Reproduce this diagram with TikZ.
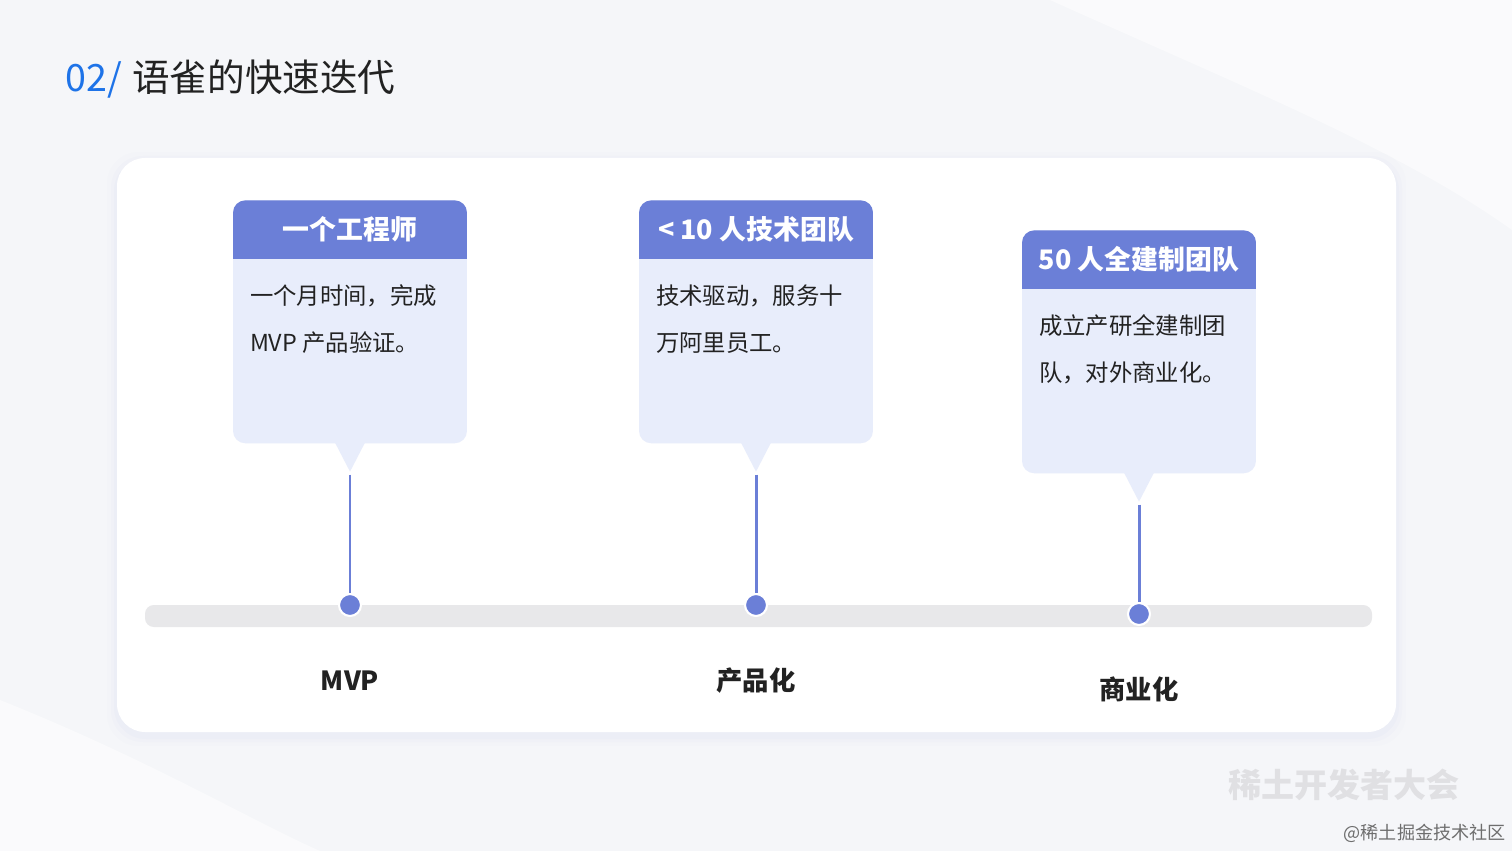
\documentclass[tikz,border=0pt]{standalone}
\usepackage{fontspec}
\setmainfont{Noto Sans CJK SC}
\usetikzlibrary{positioning,calc}
\definecolor{yqblue}{RGB}{30,115,232}
\definecolor{yqhead}{RGB}{107,127,215}
\definecolor{yqbody}{RGB}{232,237,251}
\definecolor{yqtrack}{RGB}{232,232,234}
\definecolor{yqbg}{RGB}{245,246,249}
\definecolor{darktext}{RGB}{34,34,34}

\begin{document}
\begin{tikzpicture}[x=0.02cm, y=-0.02cm,
    headbox/.style={fill=yqhead, rounded corners=7pt, minimum width=4.68cm, minimum height=1.16cm,
        inner sep=0pt, anchor=north, text=white, font=\fontsize{15.3}{18}\selectfont\bfseries},
    bodybox/.style={fill=yqbody, rounded corners=7pt, minimum width=4.68cm, minimum height=4.86cm,
        inner sep=0pt, anchor=north},
    bodytext/.style={align=left, inner sep=0pt, text=darktext, font=\fontsize{13.3}{26.6}\selectfont},
    stem/.style={draw=yqhead, line width=1.7pt},
    stagedot/.style={circle, fill=yqhead, draw=white, line width=1.2pt, minimum size=0.44cm, inner sep=0pt},
    stage/.style={font=\fontsize{15}{18}\selectfont\bfseries, text=darktext}]

    % Page background and frame
    \fill[yqbg] (0,0) rectangle (1512,851);
    \useasboundingbox (0,0) rectangle (1512,851);
    \fill[white, opacity=0.5] (1050,0) .. controls (1250,90) and (1400,150) .. (1512,230) -- (1512,0) -- cycle;
    \fill[white, opacity=0.5] (0,700) .. controls (150,760) and (250,820) .. (320,851) -- (0,851) -- cycle;

    % Title
    \node[anchor=base west, inner sep=0pt, text=darktext, font=\fontsize{21.4}{24}\selectfont]
        (title) at (65,92) {\textcolor{yqblue}{02/}\hspace{6pt}语雀的快速迭代};

    % White card with a soft shadow
    \foreach \g/\o in {10/0.012, 6/0.018, 3/0.025}
        \fill[yqhead, opacity=\o, rounded corners=18pt] (117-\g,158-\g+4) rectangle (1396+\g,732+\g+4);
    \fill[white, rounded corners=16pt] (117,158) rectangle (1396,732);

    % Timeline track
    \fill[yqtrack, rounded corners=5pt] (145,605) rectangle (1372,627);

    % Stage 1 -- MVP
    \node[bodybox] (b1) at (350,200) {};
    \node[headbox] (h1) at (b1.north) {一个工程师};
    \fill[yqhead] ([yshift=7pt]h1.south west) rectangle (h1.south east);
    \node[bodytext, below right=0.52cm and 0.34cm of h1.south west] (t1) {一个月时间，完成\\MVP 产品验证。};
    \fill[yqbody] ($(b1.south)+(-15,-1)$) -- ($(b1.south)+(15,-1)$) -- ($(b1.south)+(0,28)$) -- cycle;
    \coordinate (p1) at ($(b1.south)+(0,31)$);
    \node[stagedot] (d1) at (350,605) {};
    \draw[stem] (p1) -- (d1);
    \node[stage] (l1) at (350,681) {MVP};

    % Stage 2 -- productisation
    \node[bodybox] (b2) at (756,200) {};
    \node[headbox] (h2) at (b2.north) {< 10 人技术团队};
    \fill[yqhead] ([yshift=7pt]h2.south west) rectangle (h2.south east);
    \node[bodytext, below right=0.52cm and 0.34cm of h2.south west] (t2) {技术驱动，服务十\\万阿里员工。};
    \fill[yqbody] ($(b2.south)+(-15,-1)$) -- ($(b2.south)+(15,-1)$) -- ($(b2.south)+(0,28)$) -- cycle;
    \coordinate (p2) at ($(b2.south)+(0,31)$);
    \node[stagedot] (d2) at (756,605) {};
    \draw[stem] (p2) -- (d2);
    \node[stage] (l2) at (756,681) {产品化};

    % Stage 3 -- commercialisation, sits a bit lower
    \node[bodybox] (b3) at (1139,230) {};
    \node[headbox] (h3) at (b3.north) {50 人全建制团队};
    \fill[yqhead] ([yshift=7pt]h3.south west) rectangle (h3.south east);
    \node[bodytext, below right=0.52cm and 0.34cm of h3.south west] (t3) {成立产研全建制团\\队，对外商业化。};
    \fill[yqbody] ($(b3.south)+(-15,-1)$) -- ($(b3.south)+(15,-1)$) -- ($(b3.south)+(0,28)$) -- cycle;
    \coordinate (p3) at ($(b3.south)+(0,31)$);
    \node[stagedot] (d3) at (1139,614) {};
    \draw[stem] (p3) -- (d3);
    \node[stage] (l3) at (1139,689) {商业化};

    % Watermarks
    \node[text={rgb,255:red,224;green,224;blue,227}, font=\fontsize{18.8}{22}\selectfont\bfseries]
        (mark) at (1344,785) {稀土开发者大会};
    \node[anchor=east, inner sep=0pt, text={rgb,255:red,110;green,110;blue,110}, font=\fontsize{10.3}{12}\selectfont]
        (site) at (1506,833) {@稀土掘金技术社区};
\end{tikzpicture}
\end{document}
